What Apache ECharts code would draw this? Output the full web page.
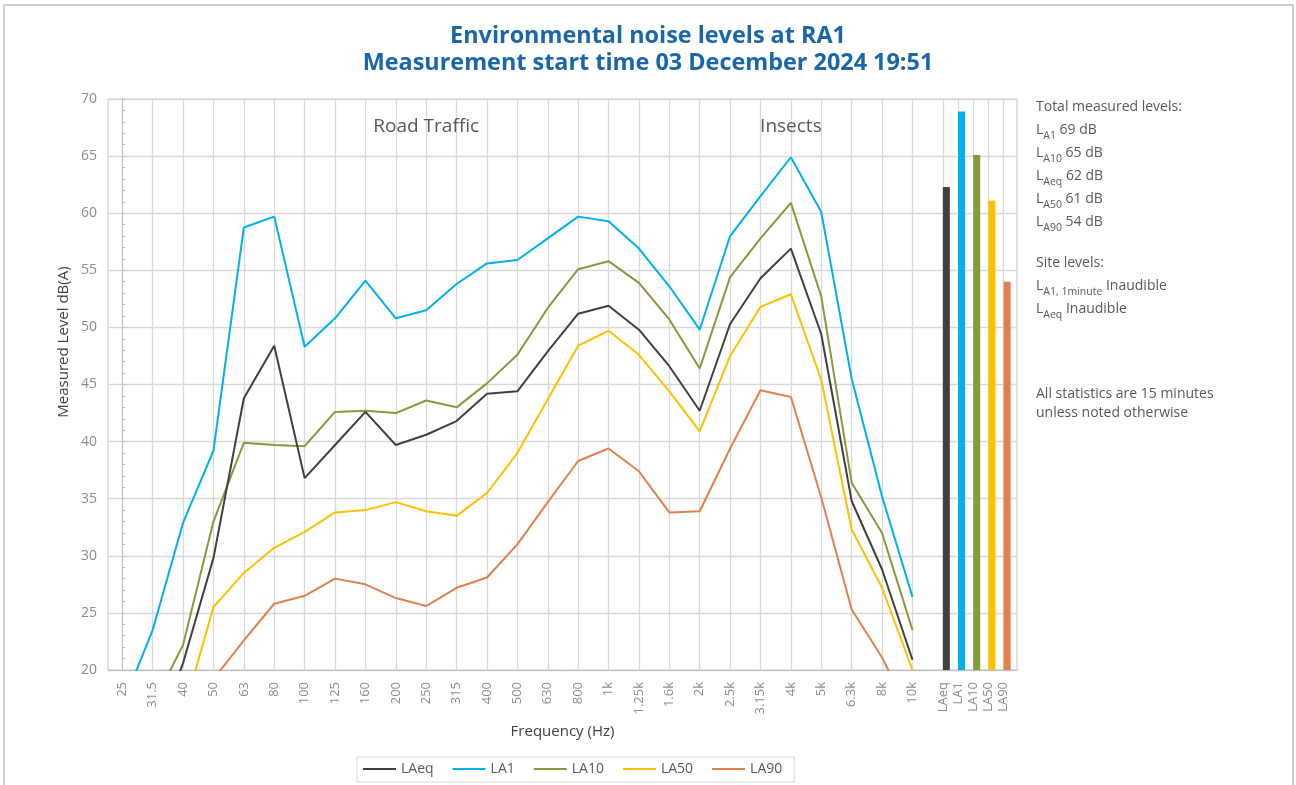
<!DOCTYPE html>
<html>
<head>
<meta charset="utf-8">
<script src="https://cdn.jsdelivr.net/npm/echarts@6.0.0/dist/echarts.min.js"></script>
<style>
  html, body { margin: 0; padding: 0; background: #fff; }
  #chart { width: 1296px; height: 785px; }
</style>
</head>
<body>
<div id="chart"></div>
<script>
// third-octave bands
var frequencies = ['25', '31.5', '40', '50', '63', '80', '100', '125', '160', '200', '250', '315', '400', '500', '630', '800', '1k', '1.25k', '1.6k', '2k', '2.5k', '3.15k', '4k', '5k', '6.3k', '8k', '10k'];

var laeq = [13.2, 13.6, 20.6, 29.8, 43.8, 48.4, 36.8, 39.7, 42.6, 39.7, 40.6, 41.8, 44.2, 44.4, 47.9, 51.2, 51.9, 49.8, 46.6, 42.7, 50.3, 54.3, 56.9, 49.4, 34.8, 28.8, 20.9];
var la1 = [16.9, 23.5, 32.9, 39.2, 58.75, 59.7, 48.3, 50.8, 54.1, 50.8, 51.5, 53.8, 55.6, 55.9, 57.8, 59.7, 59.3, 56.9, 53.6, 49.8, 58.0, 61.5, 64.9, 60.1, 45.5, 35.2, 26.4];
var la10 = [15.5, 16.9, 22.2, 33.0, 39.9, 39.7, 39.6, 42.6, 42.7, 42.5, 43.6, 43.0, 45.1, 47.6, 51.7, 55.1, 55.8, 53.9, 50.7, 46.4, 54.4, 57.8, 60.9, 52.7, 36.4, 32.0, 23.5];
var la50 = [13.0, 14.0, 16.2, 25.5, 28.5, 30.7, 32.1, 33.8, 34.0, 34.7, 33.9, 33.5, 35.5, 39.0, 43.7, 48.4, 49.7, 47.6, 44.4, 40.9, 47.5, 51.8, 52.9, 45.4, 32.3, 27.2, 20.0];
var la90 = [13.0, 14.0, 15.0, 19.2, 22.6, 25.8, 26.5, 28.0, 27.5, 26.3, 25.6, 27.2, 28.1, 31.0, 34.7, 38.3, 39.4, 37.4, 33.8, 33.9, 39.4, 44.5, 43.9, 35.1, 25.3, 21.1, 15.7];

// total measured levels (bars on the right)
var totalNames = ['LAeq', 'LA1', 'LA10', 'LA50', 'LA90'];
var totalLevels = [62.3, 68.9, 65.1, 61.1, 54.0];

var seriesNames = ['LAeq', 'LA1', 'LA10', 'LA50', 'LA90'];
var colors = ['#404040', '#00b0f0', '#86993b', '#ffc000', '#e0814f'];

var yMin = 20, yMax = 70, yStep = 5;

var annotations = [
  { name: 'Road Traffic', band: '250', level: 67.6 },
  { name: 'Insects', band: '4k', level: 67.6 }
];

var font = 'Open Sans';
var textGrey = '#595959';

// x positions: one unit per band, totals at half units after 10k
var tickValues = [];
var labelMap = {};
frequencies.forEach(function (f, i) {
  tickValues.push(i);
  labelMap[i] = f;
});
var totalPos = totalNames.map(function (n, k) {
  return frequencies.length + 0.5 * k;
});
totalPos.forEach(function (p, k) {
  tickValues.push(p);
  labelMap[p] = totalNames[k];
});

function pairs(arr) {
  return arr.map(function (v, i) { return [i, v]; });
}

var lineData = [laeq, la1, la10, la50, la90];

var series = seriesNames.map(function (name, s) {
  var ser = {
    name: name,
    type: 'line',
    data: pairs(lineData[s]),
    symbol: 'none',
    lineStyle: { width: 2, color: colors[s] },
    itemStyle: { color: colors[s] },
    clip: true,
    z: 10 - s
  };
  if (s === 0) {
    ser.markPoint = {
      symbol: 'rect',
      symbolSize: 1,
      silent: true,
      itemStyle: { color: 'rgba(0,0,0,0)' },
      label: {
        show: true,
        position: 'inside',
        formatter: '{b}',
        color: textGrey,
        fontFamily: font,
        fontSize: 19
      },
      data: annotations.map(function (a) {
        return { name: a.name, coord: [frequencies.indexOf(a.band), a.level] };
      })
    };
  }
  return ser;
});

series.push({
  name: 'Total',
  type: 'custom',
  data: totalNames.map(function (n, k) { return [totalPos[k], totalLevels[k]]; }),
  renderItem: function (params, api) {
    var top = api.coord([api.value(0), api.value(1)]);
    var base = api.coord([api.value(0), yMin]);
    var color = colors[seriesNames.indexOf(totalNames[params.dataIndex])];
    return {
      type: 'rect',
      shape: { x: top[0], y: top[1], width: 7, height: base[1] - top[1] },
      style: { fill: color }
    };
  },
  z: 5
});

// side text with subscripts
var rich = {
  m: { fontFamily: font, fontSize: 14, lineHeight: 23, color: textGrey },
  s: { fontFamily: font, fontSize: 10.5, lineHeight: 20, color: textGrey, verticalAlign: 'bottom' }
};
var order = totalNames.map(function (n, k) { return k; }).sort(function (a, b) { return totalLevels[b] - totalLevels[a]; });
var totalsText = ['{m|Total measured levels:}'].concat(order.map(function (k) {
  return '{m|L}{s|' + totalNames[k].slice(1) + '}{m| ' + Math.round(totalLevels[k]) + ' dB}';
})).join('\n');
var siteText = ['{m|Site levels:}', '{m|L}{s|A1, 1minute}{m| Inaudible}', '{m|L}{s|Aeq}{m| Inaudible}'].join('\n');

var chart = echarts.init(document.getElementById('chart'));
chart.setOption({
  backgroundColor: '#fff',
  animation: false,
  title: {
    text: 'Environmental noise levels at RA1\nMeasurement start time 03 December 2024 19:51',
    left: 'center',
    top: 18,
    textStyle: { fontFamily: font, fontSize: 23.4, fontWeight: 'bold', color: '#1966a9', lineHeight: 27 }
  },
  legend: {
    data: seriesNames,
    left: 357,
    top: 757,
    icon: 'rect',
    itemWidth: 33,
    itemHeight: 2,
    itemGap: 19,
    padding: [5, 12, 6, 6],
    borderColor: '#d9d9d9',
    borderWidth: 1,
    textStyle: { fontFamily: font, fontSize: 14, color: textGrey }
  },
  grid: {
    left: 108,
    top: 99,
    right: 279,
    bottom: 115,
    show: true,
    borderColor: '#c4c4c4',
    borderWidth: 1
  },
  xAxis: {
    type: 'value',
    min: -0.47,
    max: 29.44,
    name: 'Frequency (Hz)',
    nameLocation: 'middle',
    nameGap: 54,
    nameTextStyle: { fontFamily: font, fontSize: 15, color: '#404040' },
    axisLine: { show: true, lineStyle: { color: '#bfbfbf' } },
    axisTick: { show: false, customValues: tickValues },
    axisLabel: {
      customValues: tickValues,
      rotate: 90,
      margin: 12,
      fontFamily: font,
      fontSize: 13,
      color: '#8c8c8c',
      formatter: function (v) { return labelMap[v] || ''; }
    },
    splitLine: { show: true, lineStyle: { color: '#d9d9d9', width: 1.3 } }
  },
  yAxis: {
    type: 'value',
    min: yMin,
    max: yMax,
    interval: yStep,
    axisLine: { show: true, lineStyle: { color: '#bfbfbf' } },
    axisTick: { show: true, inside: true, length: 3, lineStyle: { color: '#bfbfbf' } },
    minorTick: { show: true, splitNumber: 5, length: 3, lineStyle: { color: '#bfbfbf' } },
    axisLabel: { margin: 11, fontFamily: font, fontSize: 14, color: '#8c8c8c' },
    splitLine: { show: true, lineStyle: { color: '#d9d9d9', width: 1.3 } }
  },
  graphic: [
    {
      type: 'rect',
      silent: true,
      shape: { x: 4, y: 5, width: 1289, height: 800 },
      style: { fill: 'none', stroke: '#c0c0c0', lineWidth: 1.5 }
    },
    {
      type: 'text',
      x: 64,
      y: 342,
      rotation: Math.PI / 2,
      style: {
        text: 'Measured Level dB(A)',
        font: '15px "Open Sans"',
        fill: '#404040',
        textAlign: 'center',
        textVerticalAlign: 'middle'
      }
    },
    {
      type: 'text',
      x: 1036,
      y: 96,
      style: { text: totalsText, rich: rich, fill: textGrey }
    },
    {
      type: 'text',
      x: 1036,
      y: 252,
      style: { text: siteText, rich: rich, fill: textGrey }
    },
    {
      type: 'text',
      x: 1036,
      y: 385,
      style: {
        text: 'All statistics are 15 minutes\nunless noted otherwise',
        font: '14px "Open Sans"',
        lineHeight: 19,
        fill: textGrey
      }
    }
  ],
  series: series
});
</script>
</body>
</html>
